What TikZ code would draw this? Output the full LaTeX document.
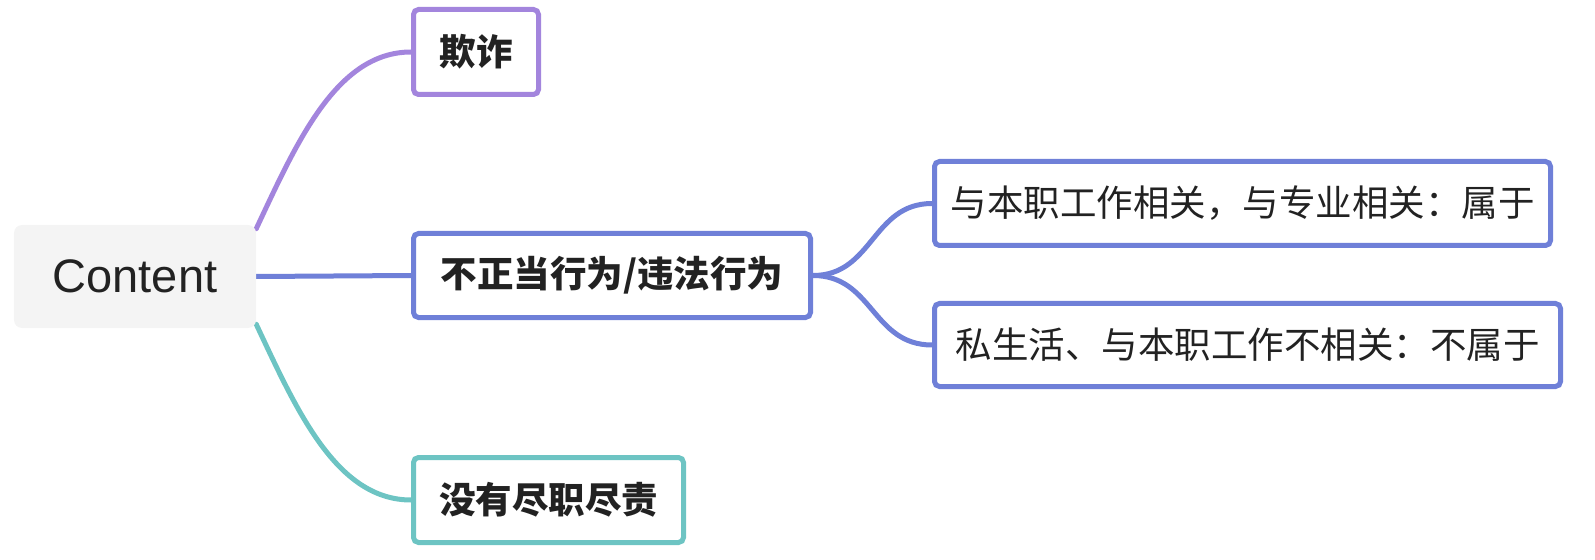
\documentclass[tikz,border=0pt]{standalone}
\usepackage{fontspec}
\setmainfont{Noto Sans CJK SC}
\newfontfamily\latinfont{Liberation Sans}
\usetikzlibrary{backgrounds}
\definecolor{mmpurple}{RGB}{163,133,221}
\definecolor{mmblue}{RGB}{111,128,216}
\definecolor{mmteal}{RGB}{109,196,195}
\definecolor{rootgray}{RGB}{244,244,244}
\definecolor{ink}{RGB}{34,34,34}
\tikzstyle{rootnode} = [fill=rootgray, rounded corners=8bp, minimum width=242bp, minimum height=103bp, text=ink, font=\latinfont\fontsize{47bp}{52bp}\selectfont]
\tikzstyle{topic} = [draw, line width=5bp, rounded corners=5bp, fill=white, inner sep=0pt, minimum height=85bp, text=ink, font=\bfseries\fontsize{36.5bp}{40bp}\selectfont]
\tikzstyle{subtopic} = [topic, draw=mmblue, minimum height=84bp, font=\fontsize{36.5bp}{40bp}\selectfont]
\tikzstyle{branch} = [line width=5bp, line cap=round]

\begin{document}
\begin{tikzpicture}[x=1bp, y=-1bp]
  \useasboundingbox (0,0) rectangle (1595,560);
  % Root
  \node[rootnode] (content) at (135,276.5) {Content};
  % First level
  \node[topic, draw=mmpurple, minimum width=125bp] (fraud) at (476,52) {欺诈};
  \node[topic, draw=mmblue, minimum width=397bp, minimum height=84bp] (misconduct) at (612,275.5) {不正当行为/违法行为};
  \node[topic, draw=mmteal, minimum width=270bp] (duty) at (548.5,500) {没有尽职尽责};
  % Second level
  \node[subtopic, minimum width=616bp] (related) at (1242.5,203.5) {与本职工作相关，与专业相关：属于};
  \node[subtopic, minimum width=626bp, minimum height=83bp] (private) at (1247.5,345) {私生活、与本职工作不相关：不属于};
  % Branches
  \begin{pgfonlayer}{background}
    \draw[branch, mmpurple] ([yshift=-4bp]content.north east) .. controls +(40,-85) and +(-75,0) .. (fraud.west);
    \draw[branch, mmblue] (content.east) -- (misconduct.west);
    \draw[branch, mmteal] ([yshift=4bp]content.south east) .. controls +(40,85) and +(-75,0) .. (duty.west);
    \draw[branch, mmblue] (misconduct.east) .. controls +(60,0) and +(-60,0) .. (related.west);
    \draw[branch, mmblue] (misconduct.east) .. controls +(60,0) and +(-60,0) .. (private.west);
  \end{pgfonlayer}
\end{tikzpicture}
\end{document}
